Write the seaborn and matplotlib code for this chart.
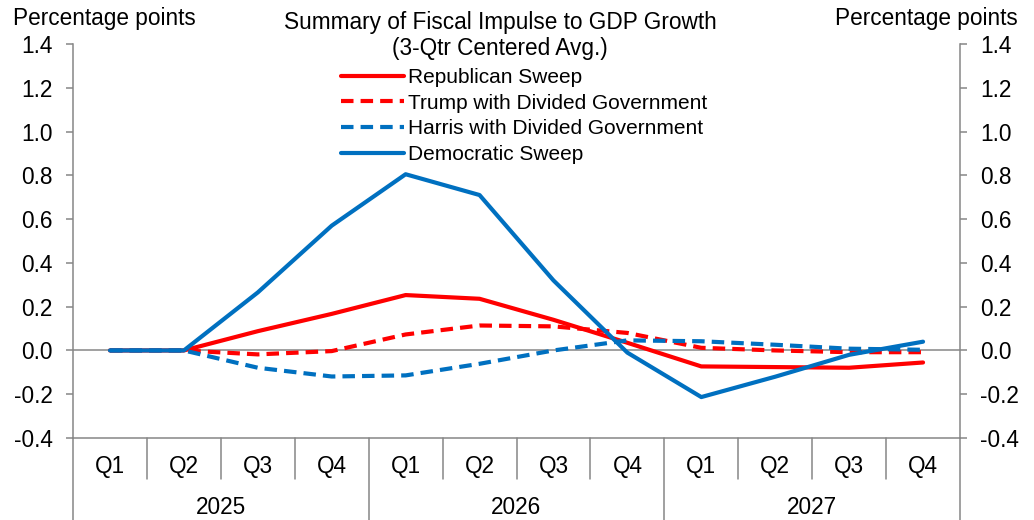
import numpy as np
import pandas as pd
import seaborn as sns
import matplotlib.pyplot as plt
from matplotlib.transforms import blended_transform_factory

# Quarterly fiscal impulse to GDP growth, percentage points
quarters = ["Q1", "Q2", "Q3", "Q4"] * 3
years = ["2025", "2026", "2027"]

republican_sweep = [0.0, 0.0, 0.088, 0.167, 0.253, 0.236, 0.140, 0.035, -0.073, -0.076, -0.079, -0.055]
trump_divided = [0.0, 0.0, -0.018, -0.003, 0.073, 0.114, 0.110, 0.080, 0.012, 0.0, -0.008, -0.008]
harris_divided = [0.0, 0.0, -0.079, -0.119, -0.114, -0.061, 0.0, 0.046, 0.042, 0.026, 0.008, 0.003]
democratic_sweep = [0.0, 0.0, 0.265, 0.57, 0.805, 0.71, 0.32, -0.01, -0.213, -0.12, -0.02, 0.04]

series_names = [
    "Republican Sweep",
    "Trump with Divided Government",
    "Harris with Divided Government",
    "Democratic Sweep",
]
series_values = [republican_sweep, trump_divided, harris_divided, democratic_sweep]
series_colors = ["#FF0000", "#FF0000", "#0070C0", "#0070C0"]
series_dashed = [False, True, True, False]

yticks = [-0.4, -0.2, 0.0, 0.2, 0.4, 0.6, 0.8, 1.0, 1.2, 1.4]

sns.set_theme(style="white")
plt.rcParams["font.family"] = ["Liberation Sans", "DejaVu Sans"]
plt.rcParams["text.color"] = "black"
plt.rcParams["ytick.labelcolor"] = "black"

FS = 16.3
LEG_FS = 15.0
AXIS_GRAY = "#868686"

fig = plt.figure(figsize=(10.34, 5.20), dpi=100)
ax = fig.add_axes([73 / 1034, 1 - 438 / 520, (960 - 73) / 1034, (438 - 44) / 520])

x = np.arange(len(quarters))
for name, vals, col, dashed in zip(series_names, series_values, series_colors, series_dashed):
    df = pd.DataFrame({"x": x, "y": vals})
    sns.lineplot(data=df, x="x", y="y", ax=ax, color=col, linewidth=3.0,
                 label=name, solid_capstyle="round")
    line = ax.get_lines()[-1]
    if dashed:
        line.set_dashes((3.0, 1.7))
        line.set_dash_capstyle("butt")

ax.set_xlim(-0.5, len(quarters) - 0.5)
ax.set_ylim(-0.4, 1.4)
ax.set_yticks(yticks)
ax.set_yticklabels([f"{v:.1f}" for v in yticks], fontsize=FS)
ax.set_xticks([])
ax.set_xlabel("")
ax.set_ylabel("")

# zero line
ax.axhline(0, color=AXIS_GRAY, linewidth=1.1, zorder=1)

for side in ["top", "right"]:
    ax.spines[side].set_visible(False)
for side in ["left", "bottom"]:
    ax.spines[side].set_color(AXIS_GRAY)
    ax.spines[side].set_linewidth(1.1)
ax.tick_params(axis="y", which="both", left=True, direction="out", length=5,
               width=1.1, color=AXIS_GRAY, pad=9.5, labelcolor="black")

# right-hand axis mirrors the left
ax2 = ax.twinx()
ax2.set_ylim(ax.get_ylim())
ax2.set_yticks(yticks)
ax2.set_yticklabels([f"{v:.1f}" for v in yticks], fontsize=FS)
ax2.grid(False)
for side in ["top", "left", "bottom"]:
    ax2.spines[side].set_visible(False)
ax2.spines["right"].set_visible(True)
ax2.spines["right"].set_color(AXIS_GRAY)
ax2.spines["right"].set_linewidth(1.1)
ax2.tick_params(axis="y", right=True, direction="out", length=5, width=1.1,
                color=AXIS_GRAY, pad=9.4, labelcolor="black")

# two-level category axis
trans = blended_transform_factory(ax.transData, ax.transAxes)
q_sep = -41 / 394
y_sep = -84 / 394
for i in range(len(quarters) + 1):
    bx = i - 0.5
    bottom = y_sep if i % 4 == 0 else q_sep
    ax.plot([bx, bx], [0, bottom], transform=trans, color=AXIS_GRAY,
            linewidth=1.1, clip_on=False)
for i, q in enumerate(quarters):
    ax.text(i, -29 / 394, q, transform=trans, ha="center", va="center", fontsize=FS)
for j, yr in enumerate(years):
    ax.text(4 * j + 1.5, -69 / 394, yr, transform=trans, ha="center", va="center", fontsize=FS)

# titles and axis unit labels
fig.text(500 / 1034, 1 - 22 / 520, "Summary of Fiscal Impulse to GDP Growth",
         ha="center", va="center", fontsize=FS)
fig.text(500 / 1034, 1 - 48 / 520, "(3-Qtr Centered Avg.)",
         ha="center", va="center", fontsize=FS)
fig.text(13 / 1034, 1 - 18 / 520, "Percentage points", ha="left", va="center", fontsize=FS)
fig.text(1018 / 1034, 1 - 18 / 520, "Percentage points", ha="right", va="center", fontsize=FS)

leg = ax.legend(loc="upper left", bbox_to_anchor=(341 / 1034, 1 - 68 / 520),
                bbox_transform=fig.transFigure, frameon=False, fontsize=LEG_FS,
                handlelength=3.0, handletextpad=0.24, labelspacing=0.32,
                borderpad=0, borderaxespad=0)

fig.savefig("out.png", dpi=100)
